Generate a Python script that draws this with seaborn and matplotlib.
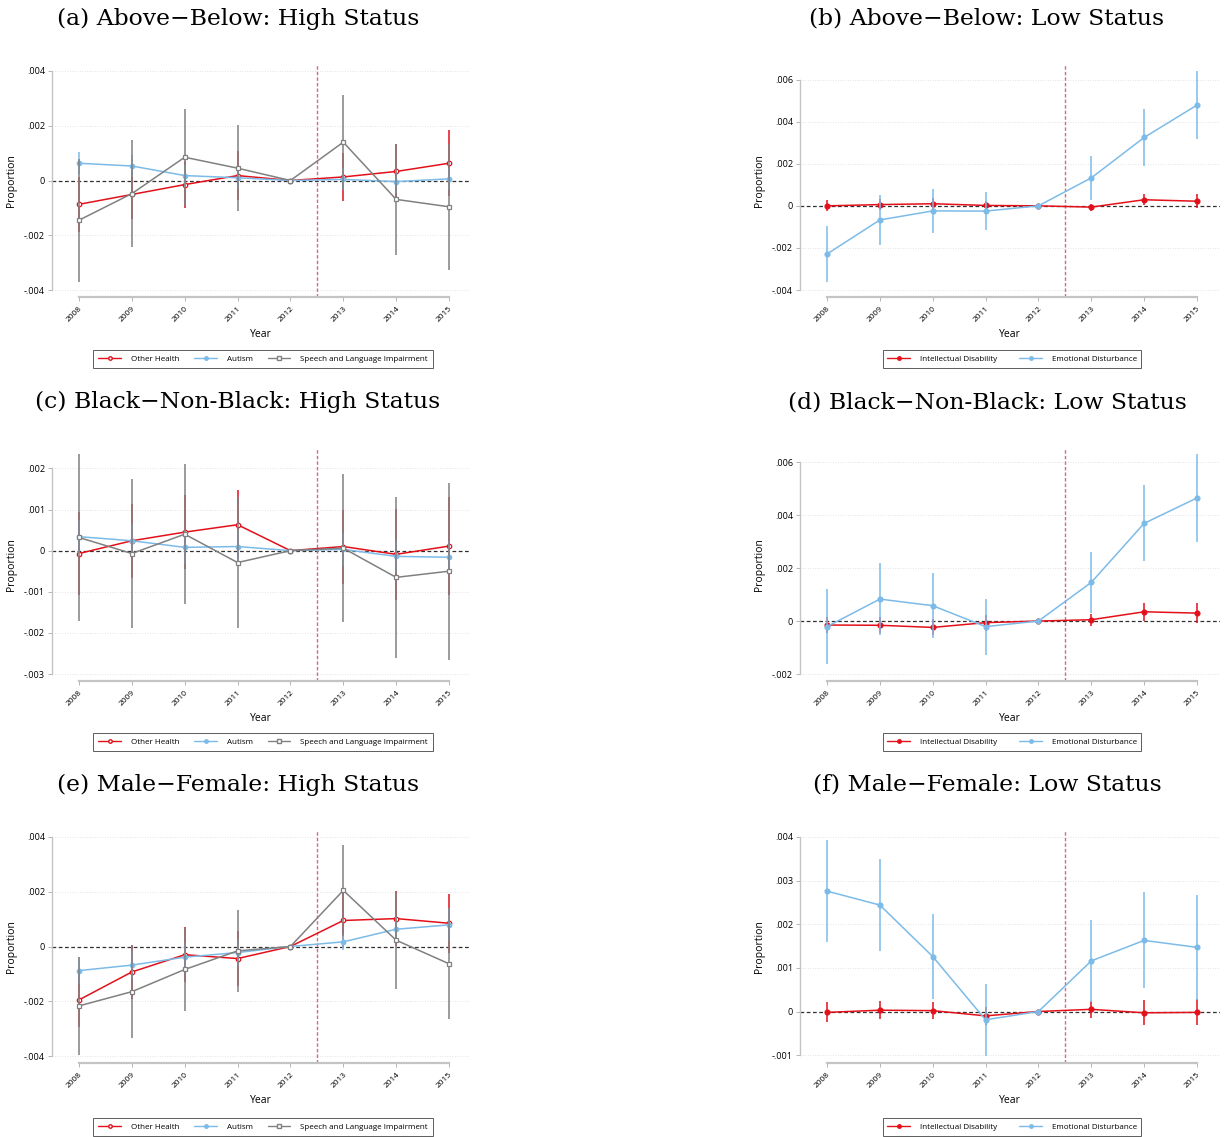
import numpy as np
import pandas as pd
import seaborn as sns
import matplotlib
matplotlib.use("Agg")
import matplotlib.pyplot as plt
from matplotlib.lines import Line2D
from matplotlib.ticker import FuncFormatter

sns.set_style("white")
plt.rcParams['font.family'] = ['Open Sans', 'DejaVu Sans']
plt.rcParams['text.color'] = 'black'
plt.rcParams['axes.labelcolor'] = 'black'
plt.rcParams['xtick.labelcolor'] = 'black'
plt.rcParams['ytick.labelcolor'] = 'black'

years = [2008, 2009, 2010, 2011, 2012, 2013, 2014, 2015]

titles = ["(a) Above\u2212Below: High Status", "(b) Above\u2212Below: Low Status",
          "(c) Black\u2212Non-Black: High Status", "(d) Black\u2212Non-Black: Low Status",
          "(e) Male\u2212Female: High Status", "(f) Male\u2212Female: Low Status"]

high_labels = ["Other Health", "Autism", "Speech and Language Impairment"]
low_labels = ["Intellectual Disability", "Emotional Disturbance"]

# Panel (a)
a_oh = [-0.00087, -0.00051, -0.00015, 0.00018, 0, 0.00013, 0.00033, 0.00063]
a_oh_hw = [0.0010, 0.0009, 0.00085, 0.0009, 0, 0.00088, 0.0010, 0.0012]
a_aut = [0.00063, 0.00053, 0.00018, 0.0001, 0, 0.00004, -0.00004, 0.00006]
a_aut_hw = [0.0004, 0.0004, 0.0004, 0.0004, 0, 0.0004, 0.0004, 0.0004]
a_sli = [-0.00145, -0.00048, 0.00085, 0.00045, 0, 0.0014, -0.00069, -0.00096]
a_sli_hw = [0.00225, 0.00195, 0.00177, 0.00156, 0, 0.00174, 0.00203, 0.0023]
# Panel (b)
b_id = [0.0, 0.00006, 0.0001, 0.00002, 0, -0.00006, 0.00029, 0.00022]
b_id_hw = [0.00026, 0.00025, 0.00025, 0.00022, 0, 0.00017, 0.00027, 0.00033]
b_ed = [-0.00229, -0.00067, -0.00024, -0.00025, 0, 0.00133, 0.00325, 0.00479]
b_ed_hw = [0.00134, 0.00119, 0.00106, 0.0009, 0, 0.00104, 0.00137, 0.00162]
# Panel (c)
c_oh = [-0.00007, 0.00024, 0.00045, 0.00063, 0, 0.0001, -0.00009, 0.00011]
c_oh_hw = [0.001, 0.0009, 0.0009, 0.00084, 0, 0.0009, 0.0011, 0.0012]
c_aut = [0.00034, 0.00024, 0.00008, 0.0001, 0, 0.00003, -0.00014, -0.00016]
c_aut_hw = [0.0004, 0.0004, 0.0004, 0.0004, 0, 0.0004, 0.0004, 0.0004]
c_sli = [0.00032, -0.00007, 0.0004, -0.00029, 0, 0.00006, -0.00065, -0.0005]
c_sli_hw = [0.00203, 0.00181, 0.0017, 0.0016, 0, 0.0018, 0.00195, 0.00215]
# Panel (d)
d_id = [-0.00015, -0.00016, -0.00024, -0.00006, 0, 0.00005, 0.00035, 0.0003]
d_id_hw = [0.0003, 0.0003, 0.0003, 0.0003, 0, 0.00023, 0.00034, 0.00039]
d_ed = [-0.00021, 0.00083, 0.00058, -0.00021, 0, 0.00146, 0.00369, 0.00465]
d_ed_hw = [0.00141, 0.00136, 0.00123, 0.00106, 0, 0.00116, 0.00144, 0.00166]
# Panel (e)
e_oh = [-0.00195, -0.00093, -0.0003, -0.00044, 0, 0.00095, 0.00102, 0.00085]
e_oh_hw = [0.001, 0.001, 0.001, 0.001, 0, 0.001, 0.001, 0.00108]
e_aut = [-0.00088, -0.00068, -0.00039, -0.00022, 0, 0.00017, 0.00063, 0.00079]
e_aut_hw = [0.0005, 0.0005, 0.0005, 0.0005, 0, 0.0003, 0.0005, 0.0006]
e_sli = [-0.00217, -0.00165, -0.00084, -0.00016, 0, 0.00205, 0.00023, -0.00063]
e_sli_hw = [0.0018, 0.0017, 0.0015, 0.0015, 0, 0.00167, 0.00177, 0.00202]
# Panel (f)
f_id = [-0.00002, 0.00003, 0.00002, -0.0001, 0, 0.00005, -0.00003, -0.00002]
f_id_hw = [0.00023, 0.00021, 0.0002, 0.0002, 0, 0.00019, 0.00029, 0.0003]
f_ed = [0.00276, 0.00244, 0.00126, -0.00019, 0, 0.00116, 0.00163, 0.00147]
f_ed_hw = [0.00116, 0.00105, 0.00097, 0.00083, 0, 0.00094, 0.0011, 0.0012]

yticks_a = [-0.004, -0.002, 0, 0.002, 0.004]
yticks_b = [-0.004, -0.002, 0, 0.002, 0.004, 0.006]
yticks_c = [-0.003, -0.002, -0.001, 0, 0.001, 0.002]
yticks_d = [-0.002, 0, 0.002, 0.004, 0.006]
yticks_e = [-0.004, -0.002, 0, 0.002, 0.004]
yticks_f = [-0.001, 0, 0.001, 0.002, 0.003, 0.004]

RED = "#e3101a"
BLUE = "#7cbbe8"
GREY = "#808080"
VLINE = "#d26a84"

high_styles = [dict(color=RED, marker="o", mfc="white", ms=3.2),
               dict(color=BLUE, marker="o", mfc=BLUE, ms=3.2),
               dict(color=GREY, marker="s", mfc="white", ms=3.2)]
low_styles = [dict(color=RED, marker="o", mfc=RED, ms=3.5),
              dict(color=BLUE, marker="o", mfc=BLUE, ms=3.5)]

panels = [
    (titles[0], [(a_oh, a_oh_hw), (a_aut, a_aut_hw), (a_sli, a_sli_hw)], high_labels, high_styles, yticks_a),
    (titles[1], [(b_id, b_id_hw), (b_ed, b_ed_hw)], low_labels, low_styles, yticks_b),
    (titles[2], [(c_oh, c_oh_hw), (c_aut, c_aut_hw), (c_sli, c_sli_hw)], high_labels, high_styles, yticks_c),
    (titles[3], [(d_id, d_id_hw), (d_ed, d_ed_hw)], low_labels, low_styles, yticks_d),
    (titles[4], [(e_oh, e_oh_hw), (e_aut, e_aut_hw), (e_sli, e_sli_hw)], high_labels, high_styles, yticks_e),
    (titles[5], [(f_id, f_id_hw), (f_ed, f_ed_hw)], low_labels, low_styles, yticks_f),
]

W, H = 1225, 1137
fig = plt.figure(figsize=(W / 100, H / 100), dpi=100)

col_x = [(52, 470), (800, 1220)]
row_y = [(71, 290), (454, 674), (837, 1056)]
title_y = [19, 402, 785]
title_x = [238, 987]
x_pix_2008 = [79, 827]
x_pix_2015 = [449, 1197]


def stata_fmt(v, pos=None):
    if abs(v) < 1e-12:
        return "0"
    s = ("%.3f" % v).rstrip("0")
    s = s.replace("0.", ".")
    return s


for i, (title, series, labels, styles, yticks) in enumerate(panels):
    r, c = divmod(i, 2)
    x0, x1 = col_x[c]
    dtop, dbot = row_y[r]
    atop, abot = dtop - 6, dbot + 7
    ax = fig.add_axes([x0 / W, 1 - abot / H, (x1 - x0) / W, (abot - atop) / H])

    allhi = [np.max(np.array(v) + np.array(h)) for v, h in series]
    alllo = [np.min(np.array(v) - np.array(h)) for v, h in series]
    hi = max(max(allhi), yticks[-1])
    lo = min(min(alllo), yticks[0])
    span = hi - lo
    pad_b = span * 7 / (dbot - dtop)
    pad_t = span * 6 / (dbot - dtop)
    ax.set_ylim(lo - pad_b, hi + pad_t)

    ppy = (x_pix_2015[c] - x_pix_2008[c]) / 7
    ax.set_xlim(2008 - (x_pix_2008[c] - x0) / ppy, 2015 + (x1 - x_pix_2015[c]) / ppy)

    for yt in yticks:
        if abs(yt) > 1e-12:
            ax.axhline(yt, color="#d9d9d9", lw=0.6, ls=(0, (1, 2)), zorder=0)
    ax.axhline(0, color="#303030", lw=0.9, ls=(0, (3, 2)), zorder=1)
    ax.axvline(2012.5, color=VLINE, lw=1.0, ls=(0, (2.5, 1.5)), zorder=1)

    for k, ((vals, hw), lab, st) in enumerate(zip(series, labels, styles)):
        df = pd.DataFrame({"Year": years, "Proportion": vals})
        v = np.array(vals)
        h = np.array(hw)
        ax.vlines(years, v - h, v + h, color=st["color"], lw=1.1, zorder=2 + k)
        sns.lineplot(data=df, x="Year", y="Proportion", ax=ax, color=st["color"],
                     marker=st["marker"], markersize=st["ms"], markerfacecolor=st["mfc"],
                     markeredgecolor=st["color"], markeredgewidth=0.9, linewidth=1.1,
                     errorbar=None, legend=False, zorder=2 + k)

    ax.set_yticks(yticks)
    ax.yaxis.set_major_formatter(FuncFormatter(stata_fmt))
    ax.set_xticks(years)
    ax.set_xticklabels([str(y) for y in years], rotation=45, ha="right",
                       rotation_mode="anchor", fontsize=6.0)
    ax.tick_params(axis="y", labelsize=6.6, length=3, width=0.6, color="#aaaaaa", pad=2, left=True)
    ax.tick_params(axis="x", length=3, width=0.6, color="#aaaaaa", pad=3, bottom=True)
    for sp in ["top", "right"]:
        ax.spines[sp].set_visible(False)
    ax.spines["left"].set_bounds(yticks[0], yticks[-1])
    ax.spines["bottom"].set_bounds(2008, 2015)
    ax.spines["left"].set_color("#c4c4c4")
    ax.spines["bottom"].set_color("#c4c4c4")
    ax.spines["left"].set_linewidth(1.0)
    ax.spines["bottom"].set_linewidth(1.6)
    ax.set_xlabel("Year", fontsize=7.5, labelpad=4, color="black")
    ax.set_ylabel("Proportion", fontsize=7.5, labelpad=5, color="black")

    fig.text(title_x[c] / W, 1 - title_y[r] / H, title, ha="center", va="center",
             fontsize=16.9, family="DejaVu Serif", color="black")

    handles = [Line2D([0], [0], color=st["color"], marker=st["marker"], ms=2.5,
                      mfc=st["mfc"], mec=st["color"], lw=1.0) for st in styles]
    leg_y = [359, 742, 1127][r]
    leg_x = (x0 + x1) / 2 + 2
    leg = fig.legend(handles, labels, loc="center", bbox_to_anchor=(leg_x / W, 1 - leg_y / H),
                     ncol=len(labels), fontsize=5.8, frameon=True, fancybox=False,
                     edgecolor="#333333", handlelength=2.8,
                     columnspacing=(1.9 if len(labels) == 3 else 2.8),
                     handletextpad=1.2, borderpad=0.6, labelcolor="black")
    leg.get_frame().set_linewidth(0.7)

fig.savefig("out.png", dpi=100)
